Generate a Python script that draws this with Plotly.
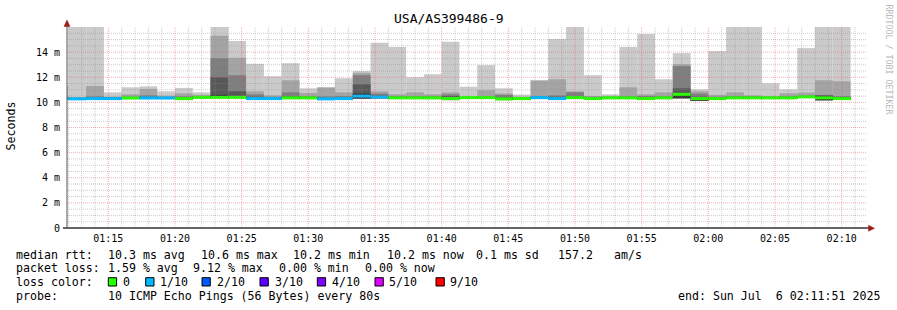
import plotly.graph_objects as go
from datetime import datetime, timedelta

# ---------------- data ----------------
# sorted ping RTTs (ms) per 80 s step, first step starts 01:10:40
pings = [
    [10.22, 10.24, 10.26, 10.28, 10.29, 10.32, 10.35, 10.40, 10.50, 11.30],
    [10.20, 10.22, 10.24, 10.26, 10.27, 10.30, 10.33, 10.36, 10.42, 16.40],
    [10.20, 10.23, 10.25, 10.27, 10.29, 10.32, 10.38, 10.48, 11.30, 16.40],
    [10.21, 10.23, 10.25, 10.27, 10.29, 10.32, 10.35, 10.38, 10.45, 10.80],
    [10.25, 10.28, 10.30, 10.32, 10.34, 10.37, 10.40, 10.45, 10.64, 11.20],
    [10.25, 10.28, 10.30, 10.32, 10.34, 10.37, 10.45, 10.56, 11.07, 11.28],
    [10.25, 10.28, 10.30, 10.32, 10.34, 10.37, 10.40, 10.45, 10.53, 10.88],
    [10.18, 10.20, 10.23, 10.26, 10.29, 10.32, 10.38, 10.48, 10.72, 11.15],
    [10.30, 10.32, 10.34, 10.36, 10.38, 10.42, 10.46, 10.50, 10.60, 10.80],
    [10.30, 10.32, 10.34, 10.36, 10.38, 10.60, 12.00, 13.52, 15.30, 16.40],
    [10.30, 10.32, 10.34, 10.36, 10.38, 10.44, 10.88, 12.16, 13.55, 14.88],
    [10.20, 10.22, 10.24, 10.26, 10.28, 10.32, 10.45, 10.64, 10.88, 13.07],
    [10.20, 10.22, 10.24, 10.26, 10.28, 10.32, 10.38, 10.45, 10.56, 12.08],
    [10.26, 10.28, 10.30, 10.32, 10.34, 10.38, 10.50, 10.80, 11.76, 13.12],
    [10.26, 10.28, 10.30, 10.32, 10.34, 10.38, 10.42, 10.50, 10.75, 11.12],
    [10.18, 10.20, 10.22, 10.25, 10.27, 10.30, 10.38, 10.48, 11.18, 11.20],
    [10.20, 10.22, 10.24, 10.26, 10.28, 10.32, 10.40, 10.50, 10.80, 11.92],
    [10.28, 10.29, 10.30, 10.31, 10.32, 10.70, 11.44, 12.16, 12.35, 12.50],
    [10.30, 10.31, 10.32, 10.33, 10.34, 10.50, 10.55, 10.70, 10.88, 14.75],
    [10.26, 10.28, 10.30, 10.32, 10.34, 10.38, 10.42, 10.50, 10.64, 14.40],
    [10.26, 10.28, 10.30, 10.32, 10.34, 10.38, 10.42, 10.50, 10.80, 12.00],
    [10.26, 10.28, 10.30, 10.32, 10.34, 10.38, 10.42, 10.50, 10.64, 12.24],
    [10.16, 10.18, 10.22, 10.26, 10.28, 10.32, 10.50, 10.64, 10.80, 14.83],
    [10.28, 10.30, 10.32, 10.34, 10.36, 10.40, 10.41, 10.42, 10.45, 11.25],
    [10.28, 10.30, 10.32, 10.34, 10.36, 10.40, 10.45, 10.50, 10.97, 12.96],
    [10.16, 10.18, 10.20, 10.24, 10.26, 10.30, 10.40, 10.60, 10.70, 11.12],
    [10.20, 10.22, 10.24, 10.26, 10.28, 10.32, 10.35, 10.40, 10.45, 10.62],
    [10.28, 10.30, 10.32, 10.34, 10.36, 10.40, 10.45, 10.50, 11.74, 11.76],
    [10.20, 10.22, 10.24, 10.26, 10.28, 10.32, 10.45, 10.56, 11.84, 15.04],
    [10.28, 10.30, 10.32, 10.34, 10.36, 10.40, 10.50, 10.80, 10.88, 16.40],
    [10.20, 10.22, 10.24, 10.26, 10.28, 10.32, 10.40, 10.45, 10.50, 12.16],
    [10.26, 10.28, 10.30, 10.32, 10.34, 10.38, 10.40, 10.42, 10.50, 10.64],
    [10.26, 10.28, 10.30, 10.32, 10.34, 10.38, 10.42, 10.50, 11.20, 14.40],
    [10.20, 10.22, 10.24, 10.26, 10.28, 10.32, 10.40, 10.50, 10.64, 15.44],
    [10.26, 10.28, 10.30, 10.32, 10.34, 10.38, 10.42, 10.50, 10.80, 11.84],
    [10.30, 10.31, 10.32, 10.33, 10.34, 10.72, 11.12, 12.88, 13.04, 13.92],
    [10.12, 10.12, 10.13, 10.13, 10.14, 10.40, 10.45, 10.70, 10.88, 11.04],
    [10.20, 10.22, 10.24, 10.26, 10.28, 10.32, 10.40, 10.45, 10.60, 14.08],
    [10.26, 10.28, 10.30, 10.32, 10.34, 10.38, 10.42, 10.50, 10.80, 16.40],
    [10.26, 10.28, 10.30, 10.32, 10.34, 10.38, 10.42, 10.50, 10.56, 16.40],
    [10.26, 10.28, 10.30, 10.32, 10.34, 10.38, 10.42, 10.45, 10.50, 11.52],
    [10.26, 10.28, 10.30, 10.32, 10.34, 10.38, 10.42, 10.50, 10.72, 11.04],
    [10.34, 10.36, 10.38, 10.40, 10.42, 10.46, 10.48, 10.55, 10.78, 14.32],
    [10.16, 10.16, 10.17, 10.17, 10.18, 10.50, 10.56, 10.60, 11.76, 16.40],
    [10.20, 10.22, 10.24, 10.26, 10.28, 10.32, 10.42, 10.50, 11.68, 16.40],
]
median_ms = [10.30, 10.28, 10.30, 10.30, 10.35, 10.35, 10.35, 10.30, 10.40, 10.40,
             10.40, 10.30, 10.30, 10.36, 10.36, 10.28, 10.30, 10.50, 10.42, 10.36,
             10.36, 10.36, 10.30, 10.38, 10.38, 10.28, 10.30, 10.38, 10.30, 10.38,
             10.30, 10.36, 10.36, 10.30, 10.36, 10.64, 10.30, 10.30, 10.36, 10.36,
             10.36, 10.36, 10.44, 10.36, 10.30]
lost_pings = [1, 1, 1, 1, 0, 1, 1, 0, 0, 0,
              0, 1, 1, 0, 0, 1, 1, 1, 1, 0,
              0, 0, 0, 0, 0, 0, 0, 1, 1, 0,
              0, 0, 0, 0, 0, 0, 0, 0, 0, 0,
              0, 0, 0, 0, 0]

loss_labels = ["0", "1/10", "2/10", "3/10", "4/10", "5/10", "9/10"]
loss_counts = [0, 1, 2, 3, 4, 5, 9]
loss_colors = ["#26ff00", "#00b8ff", "#0059ff", "#5e00ff", "#7e00ff", "#dd00ff", "#ff0000"]

x_tick_labels = ["01:15", "01:20", "01:25", "01:30", "01:35", "01:40",
                 "01:45", "01:50", "01:55", "02:00", "02:05", "02:10"]
y_tick_vals = [0, 2, 4, 6, 8, 10, 12, 14]
y_tick_labels = ["0", "2 m", "4 m", "6 m", "8 m", "10 m", "12 m", "14 m"]

title_text = "USA/AS399486-9"
line_rtt = [("median rtt:", 16), ("10.3 ms avg", 107.7), ("10.6 ms max", 201),
            ("10.2 ms min", 293.3), ("10.2 ms now", 386.7), ("0.1 ms sd", 476),
            ("157.2", 558.3), ("am/s", 614.3)]
line_loss = [("packet loss:", 16), ("1.59 % avg", 107.7), ("9.12 % max", 192.7),
             ("0.00 % min", 279.3), ("0.00 % now", 365)]
line_probe = [("probe:", 16), ("10 ICMP Echo Pings (56 Bytes) every 80s", 107.7)]
end_text = "end: Sun Jul  6 02:11:51 2025"

# ---------------- geometry ----------------
FIG_W, FIG_H = 897, 310
L, R, T, B = 67, 30, 27, 82
PW = FIG_W - L - R
PH = FIG_H - T - B


def px(x):
    return (x - L) / PW


def py(y):
    return (FIG_H - B - y) / PH


STEP = 80
first_start = datetime(2025, 7, 6, 1, 10, 40)
x_start = datetime(2025, 7, 6, 1, 11, 54)
x_end = x_start + timedelta(minutes=60)
n = len(pings)
centers = [first_start + timedelta(seconds=STEP * i + STEP / 2) for i in range(n)]

smoke_colors = ["#cacaca", "#a4a4a4", "#7e7e7e", "#585858", "#323232"]
color_for_loss = dict(zip(loss_counts, loss_colors))

fig = go.Figure()
for layer in range(5):
    lo = [row[layer] for row in pings]
    hi = [row[9 - layer] for row in pings]
    fig.add_trace(go.Bar(
        x=centers, base=lo, y=[h - l for h, l in zip(hi, lo)],
        width=STEP * 1000, marker=dict(color=smoke_colors[layer], line=dict(width=0)),
        hoverinfo="skip", showlegend=False))

BAND = 0.24
fig.add_trace(go.Bar(
    x=centers, base=[m - BAND / 2 for m in median_ms], y=[BAND] * n,
    width=STEP * 1000,
    marker=dict(color=[color_for_loss[c] for c in lost_pings], line=dict(width=0)),
    hoverinfo="skip", showlegend=False))

tick_times = [datetime(2025, 7, 6, int(t[:2]), int(t[3:])) for t in x_tick_labels]

MONO = "DejaVu Sans Mono"
fig.update_layout(
    width=FIG_W, height=FIG_H, margin=dict(l=L, r=R, t=T, b=B, pad=0),
    paper_bgcolor="white", plot_bgcolor="white", barmode="overlay",
    showlegend=False, font=dict(family=MONO, color="#000000"),
)
fig.update_xaxes(type="date", range=[x_start, x_end], tickvals=tick_times,
                 ticktext=x_tick_labels, showgrid=False, zeroline=False,
                 showline=False, ticks="", tickfont=dict(family=MONO, size=10, color="#000"),
                 ticklabelstandoff=3)
fig.update_yaxes(range=[0, 16], tickvals=y_tick_vals, ticktext=y_tick_labels,
                 showgrid=False, zeroline=False, showline=False, ticks="",
                 tickfont=dict(family=MONO, size=10, color="#000"), ticklabelstandoff=6)

# grid drawn above the smoke, like rrdtool
MINOR = "rgba(143,143,143,0.45)"
MAJOR = "rgba(222,80,80,0.45)"
t = datetime(2025, 7, 6, 1, 12)
while t < x_end:
    major = t.minute % 5 == 0
    fig.add_shape(type="line", xref="x", yref="paper", x0=t, x1=t, y0=0, y1=1,
                  line=dict(color=MAJOR if major else MINOR, width=1, dash="1px,1px"),
                  layer="above")
    t += timedelta(minutes=1)
yv = 0.5
while yv < 16:
    major = abs(yv % 2) < 1e-9
    fig.add_shape(type="line", xref="paper", yref="y", x0=0, x1=1, y0=yv, y1=yv,
                  line=dict(color=MAJOR if major else MINOR, width=1, dash="1px,1px"),
                  layer="above")
    yv += 0.5

# axes with arrows
AXC = "#333333"
ARROW = "#9b1c1c"
fig.add_shape(type="line", xref="paper", yref="paper", x0=px(63), x1=px(869),
              y0=py(228), y1=py(228), line=dict(color=AXC, width=1.5))
fig.add_shape(type="line", xref="paper", yref="paper", x0=px(67), x1=px(67),
              y0=py(228), y1=py(25), line=dict(color="#555555", width=1))
fig.add_shape(type="path", xref="paper", yref="paper",
              path=f"M {px(67)},{py(20)} L {px(64)},{py(26.5)} L {px(70)},{py(26.5)} Z",
              fillcolor=ARROW, line=dict(color=ARROW, width=0.5))
fig.add_shape(type="path", xref="paper", yref="paper",
              path=f"M {px(874.5)},{py(228.3)} L {px(868.5)},{py(225.3)} L {px(868.5)},{py(231.3)} Z",
              fillcolor=ARROW, line=dict(color=ARROW, width=0.5))


def nb(s):
    return s.replace(" ", "\u00a0")


def text(s, x, y, size=11.6, anchor="left", color="#000000", angle=0):
    fig.add_annotation(text=nb(s), xref="paper", yref="paper", x=px(x), y=py(y),
                       xanchor=anchor, yanchor="middle", showarrow=False,
                       textangle=angle, borderpad=0,
                       font=dict(family=MONO, size=size, color=color))


text(title_text, 448.5, 19, size=13, anchor="center")
text("Seconds", 10.5, 126, size=11.6, anchor="center", angle=-90)
text("RRDTOOL / TOBI OETIKER", 888.5, 59, size=8.3, anchor="center", color="#b8b8b8", angle=90)

for s, x in line_rtt:
    text(s, x - 1, 254.5)
for s, x in line_loss:
    text(s, x - 1, 268.3)
text("loss color:", 15, 282.2)
sq_x = [108.3, 145.7, 202, 260, 317.3, 375, 436]
lab_x = [123.3, 160, 216.7, 275, 332, 389.3, 450]
for lab, col, sx, lx in zip(loss_labels, loss_colors, sq_x, lab_x):
    fig.add_shape(type="rect", xref="paper", yref="paper", x0=px(sx), x1=px(sx + 8.3),
                  y0=py(286), y1=py(277.7), fillcolor=col, line=dict(color="#000", width=1))
    text(lab, lx - 1, 282.2)
for s, x in line_probe:
    text(s, x - 1, 296)
text(end_text, 880.5, 296, anchor="right")

fig.write_html("out.html")
